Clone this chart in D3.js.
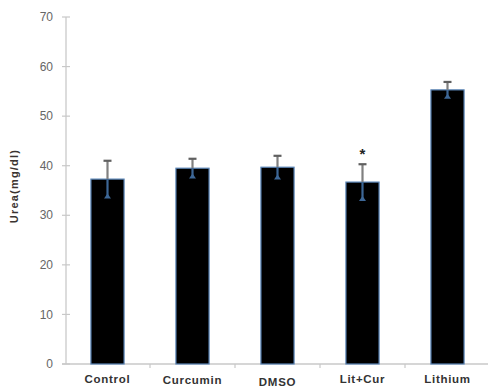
<!DOCTYPE html>
<html><head><meta charset="utf-8">
<script src="https://cdn.jsdelivr.net/npm/d3@7"></script>
<style>body{margin:0;background:#fff;}svg{display:block;}</style>
</head><body>
<script>
const categories = ["Control","Curcumin","DMSO","Lit+Cur","Lithium"];
const values = [37.3, 39.5, 39.7, 36.7, 55.3];
const errors = [3.7, 1.9, 2.3, 3.6, 1.6];
const significance = ["", "", "", "*", ""];
const yTicks = [0,10,20,30,40,50,60,70];
const yLabel = "Urea(mg/dl)";

const W = 488, H = 387;
const svg = d3.select("body").append("svg").attr("width", W).attr("height", H);

const x = d3.scaleBand().domain(categories).range([65, 490]).paddingInner(0.61).paddingOuter(0.305);
const y = d3.scaleLinear().domain([0, 70]).range([364, 17]);

// y axis
const yAxis = svg.append("g").attr("transform", "translate(66,0)");
yAxis.append("line").attr("x1",0).attr("x2",0).attr("y1",y(70)).attr("y2",y(0)).attr("stroke","#d0d0d0").attr("stroke-width",1.5);
yAxis.selectAll(".t").data(yTicks).enter().append("line")
  .attr("x1",-4).attr("x2",4).attr("y1",d=>y(d)).attr("y2",d=>y(d)).attr("stroke","#c8c8c8").attr("stroke-width",1.2);
yAxis.selectAll(".l").data(yTicks).enter().append("text")
  .attr("x",-13).attr("y",d=>y(d)).attr("dy","0.35em").attr("text-anchor","end")
  .attr("font-family","Liberation Sans, Arial, sans-serif").attr("font-size",12).attr("fill","#666")
  .text(d=>d);

// x axis
svg.append("line").attr("x1",62).attr("x2",488).attr("y1",y(0)).attr("y2",y(0)).attr("stroke","#c8c8c8").attr("stroke-width",1.5);
const step = x.step();
svg.selectAll(".xt").data(categories.slice(1)).enter().append("line")
  .attr("x1",d=>x(d)-x.paddingInner()*step/2).attr("x2",d=>x(d)-x.paddingInner()*step/2)
  .attr("y1",y(0)).attr("y2",y(0)+4).attr("stroke","#c8c8c8").attr("stroke-width",1.2);

// bars
svg.selectAll(".bar").data(categories).enter().append("rect")
  .attr("x",d=>x(d)).attr("width",x.bandwidth())
  .attr("y",(d,i)=>y(values[i])).attr("height",(d,i)=>y(0)-y(values[i]))
  .attr("fill","#000").attr("stroke","#5b86b8").attr("stroke-width",1.2);

// error bars
categories.forEach((c,i)=>{
  const cx = x(c)+x.bandwidth()/2;
  const top = y(values[i]+errors[i]), mid = y(values[i]), bot = y(values[i]-errors[i]);
  svg.append("line").attr("x1",cx).attr("x2",cx).attr("y1",top).attr("y2",mid).attr("stroke","#808080").attr("stroke-width",2.2);
  svg.append("line").attr("x1",cx-4).attr("x2",cx+4).attr("y1",top).attr("y2",top).attr("stroke","#606060").attr("stroke-width",2.2);
  svg.append("line").attr("x1",cx).attr("x2",cx).attr("y1",mid).attr("y2",bot).attr("stroke","#3d6796").attr("stroke-width",2.2);
  svg.append("path").attr("d",`M${cx-3.5},${bot+1} L${cx+3.5},${bot+1} L${cx},${bot-4} Z`).attr("fill","#3d6796");
  if (significance[i]) {
    svg.append("text").attr("x",cx).attr("y",top-5).attr("text-anchor","middle")
      .attr("font-family","Liberation Sans, Arial, sans-serif").attr("font-weight","bold").attr("font-size",15).attr("fill","#222")
      .text(significance[i]);
  }
});

// x labels
svg.selectAll(".xl").data(categories).enter().append("text")
  .attr("x",d=>x(d)+x.bandwidth()/2).attr("y",(d,i)=>[383,384,386,383,383][i])
  .attr("text-anchor","middle").attr("font-family","Liberation Sans, Arial, sans-serif")
  .attr("font-weight","bold").attr("font-size",11.5).attr("letter-spacing","0.7px").attr("fill","#333")
  .text(d=>d);

// y label
svg.append("text").attr("transform","translate(18,186) rotate(-90)").attr("text-anchor","middle")
  .attr("font-family","Liberation Sans, Arial, sans-serif").attr("font-weight","bold").attr("font-size",11)
  .attr("letter-spacing","1.2px").attr("fill","#3a3330").text(yLabel);
</script>
</body></html>
